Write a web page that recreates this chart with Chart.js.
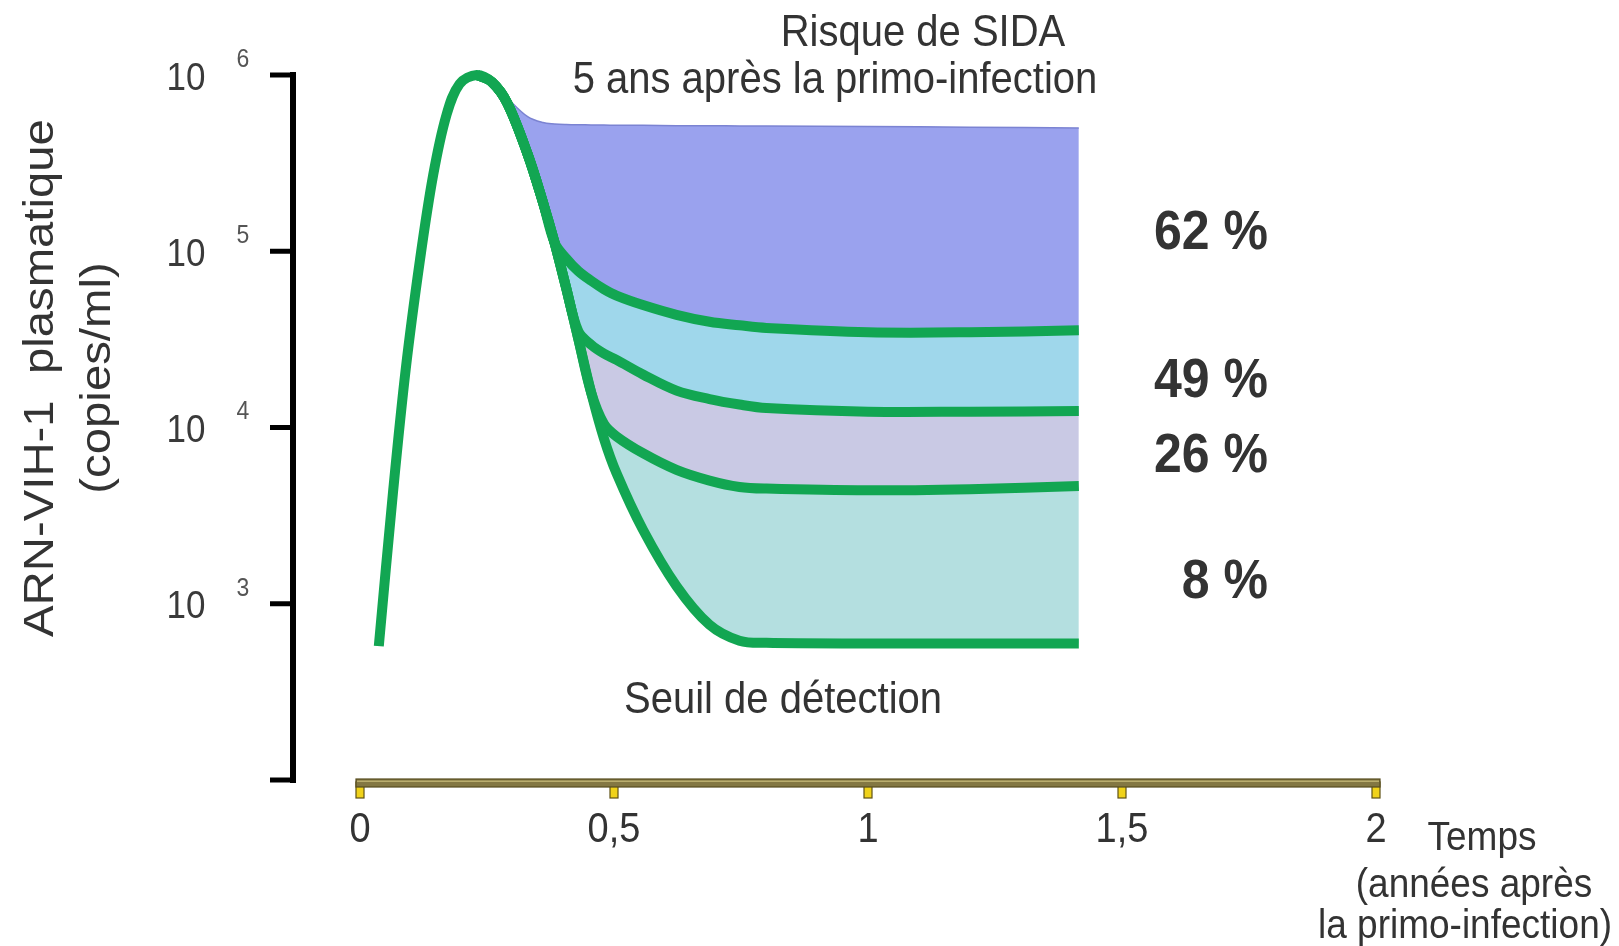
<!DOCTYPE html>
<html>
<head>
<meta charset="utf-8">
<title>ARN-VIH-1 plasmatique après la primo-infection</title>
<script src="https://cdn.jsdelivr.net/npm/chart.js@4.4.1/dist/chart.umd.min.js"></script>
<style>
  html, body { margin: 0; padding: 0; background: #fff; }
  #wrap { position: relative; width: 1619px; height: 946px; }
</style>
</head>
<body>
<div id="wrap"><canvas id="vlChart"></canvas></div>
<script>
/* ---------------- Data ---------------- */
// years after primary infection
const times = [0.037, 0.065, 0.09, 0.118, 0.144, 0.17, 0.196, 0.23, 0.26, 0.29, 0.33, 0.36, 0.383,
               0.406, 0.43, 0.455, 0.48, 0.505, 0.557, 0.623, 0.688, 0.747, 0.8, 1.0, 1.2, 1.415];

// plasma HIV-1 RNA (copies/ml) - peak then decline down to the detection threshold
const mainLoad = [575, 4300, 21400, 89000, 270000, 590000, 890000, 1000000, 910000, 692000, 355000, 190000, 112000,
                  61700, 31600, 15800, 8700, 5500, 2630, 1260, 760, 617, 600, 595, 595, 595];

// upper edge of the 62 % band
const riskTop = [null, null, null, null, null, null, null, 1000000, 910000, 740000, 580000, 537000, 528000,
                 524000, 522000, 521000, 520000, 519000, 518000, 516000, 515000, 514000, 513000, 510000, 506000, 501000];

// set points separating the bands
const split62 = [null, null, null, null, null, null, null, 1000000, 910000, 692000, 355000, 190000, 112000,
                 91000, 77000, 68000, 61000, 56000, 49500, 43600, 39800, 38000, 36700, 34700, 34700, 35600];
const split49 = [null, null, null, null, null, null, null, 1000000, 910000, 692000, 355000, 190000, 112000,
                 61700, 35000, 29500, 26300, 24200, 20000, 16200, 14500, 13500, 12900, 12300, 12300, 12400];
const split26 = [null, null, null, null, null, null, null, 1000000, 910000, 692000, 355000, 190000, 112000,
                 61700, 31600, 15800, 10500, 8900, 7150, 5750, 5000, 4600, 4500, 4400, 4470, 4650];

const riskLabels = ['62 %', '49 %', '26 %', '8 %'];
const xTicks = [0, 0.5, 1, 1.5, 2];
const xTickLabels = ['0', '0,5', '1', '1,5', '2'];
const yTicks = [1000000, 100000, 10000, 1000];
const yTickExp = ['6', '5', '4', '3'];

/* ---------------- Styles ---------------- */
const GREEN = '#12a652';
const FONT = '"Liberation Sans", Arial, sans-serif';
const STRETCH = 1.1;   // text in the original is slightly tall

function drawText(ctx, text, x, y, font, color, align, rotate) {
  ctx.save();
  ctx.translate(x, y);
  ctx.scale(1, STRETCH);
  if (rotate) ctx.rotate(-Math.PI / 2);
  ctx.font = font;
  ctx.fillStyle = color;
  ctx.textAlign = align || 'center';
  ctx.textBaseline = 'middle';
  ctx.fillText(text, 0, 0);
  ctx.restore();
}

const toPoints = vals => times.map((t, i) => ({ x: t, y: vals[i] }));

/* ---------------- Axes + labels plugin ---------------- */
const axesAndLabels = {
  id: 'axesAndLabels',
  afterDraw(chart) {
    const ctx = chart.ctx;
    const xs = chart.scales.x, ys = chart.scales.y;

    // y axis (black, with ticks on the left)
    const axX = 293;
    ctx.save();
    ctx.strokeStyle = '#000';
    ctx.lineWidth = 6;
    ctx.beginPath();
    ctx.moveTo(axX, ys.getPixelForValue(1000000) - 3);
    ctx.lineTo(axX, ys.getPixelForValue(100) + 3);
    ctx.stroke();
    ctx.lineWidth = 5;
    [...yTicks, 100].forEach(v => {
      const py = ys.getPixelForValue(v);
      ctx.beginPath();
      ctx.moveTo(270, py);
      ctx.lineTo(axX, py);
      ctx.stroke();
    });
    ctx.restore();

    yTicks.forEach((v, i) => {
      const py = ys.getPixelForValue(v);
      drawText(ctx, '10', 186, py + 4, '35px ' + FONT, '#3a3a3a');
      drawText(ctx, yTickExp[i], 243, py - 15, '23px ' + FONT, '#555');
    });

    drawText(ctx, 'ARN-VIH-1  plasmatique', 41, 378, '43px ' + FONT, '#333', 'center', true);
    drawText(ctx, '(copies/ml)', 98, 378, '43px ' + FONT, '#333', 'center', true);

    // x axis: olive bar with small yellow ticks
    const x0 = xs.getPixelForValue(xTicks[0]);
    const x1 = xs.getPixelForValue(xTicks[xTicks.length - 1]);
    const barY = chart.chartArea.bottom - 1;
    ctx.save();
    ctx.lineWidth = 1.2;
    xTicks.forEach(v => {
      const px = xs.getPixelForValue(v);
      ctx.fillStyle = '#f0d21a';
      ctx.strokeStyle = '#5f5215';
      ctx.fillRect(px - 4, barY + 3, 8, 16);
      ctx.strokeRect(px - 4, barY + 3, 8, 16);
    });
    ctx.fillStyle = '#837743';
    ctx.fillRect(x0 - 4, barY, x1 - x0 + 8, 8);
    ctx.strokeStyle = '#564c1f';
    ctx.strokeRect(x0 - 4, barY, x1 - x0 + 8, 8);
    ctx.fillStyle = '#b9ad6e';
    ctx.fillRect(x0 - 3, barY + 1.5, x1 - x0 + 6, 1.5);
    ctx.restore();

    xTicks.forEach((v, i) => {
      drawText(ctx, xTickLabels[i], xs.getPixelForValue(v), 830, '38px ' + FONT, '#333');
    });
    drawText(ctx, 'Temps', 1482, 839, '37px ' + FONT, '#333');
    drawText(ctx, '(années après', 1474, 886, '37px ' + FONT, '#333');
    drawText(ctx, 'la primo-infection)', 1465, 927, '37px ' + FONT, '#333');

    // titles and band labels
    drawText(ctx, 'Risque de SIDA', 923, 34, '40px ' + FONT, '#333');
    drawText(ctx, '5 ans après la primo-infection', 835, 81, '40px ' + FONT, '#333');
    drawText(ctx, 'Seuil de détection', 783, 701, '40px ' + FONT, '#333');

    const labelY = [234, 382, 457, 583];
    riskLabels.forEach((t, i) => {
      drawText(ctx, t, 1268, labelY[i], 'bold 50px ' + FONT, '#333', 'right');
    });
  }
};

/* ---------------- Chart ---------------- */
const ctx = document.getElementById('vlChart').getContext('2d');
const vlChart = new Chart(ctx, {
  type: 'line',
  data: {
    datasets: [
      { label: 'Risque 62 %', data: toPoints(riskTop), borderColor: '#7b83d2', borderWidth: 1.5,
        backgroundColor: '#9aa2ee', fill: '+1', order: 9, clip: false },
      { label: '62 / 49 %', data: toPoints(split62), borderColor: GREEN, borderWidth: 10,
        backgroundColor: '#9fd7eb', fill: '+1', order: 1, clip: false },
      { label: '49 / 26 %', data: toPoints(split49), borderColor: GREEN, borderWidth: 10,
        backgroundColor: '#c9c9e4', fill: '+1', order: 1, clip: false },
      { label: '26 / 8 %', data: toPoints(split26), borderColor: GREEN, borderWidth: 10,
        backgroundColor: '#b4dfe0', fill: '+1', order: 1, clip: false },
      { label: 'Charge virale', data: toPoints(mainLoad), borderColor: GREEN, borderWidth: 10,
        fill: false, order: 0, clip: false }
    ]
  },
  options: {
    responsive: true,
    maintainAspectRatio: false,
    animation: false,
    layout: { padding: { left: 360, right: 243, top: 75, bottom: 166 } },
    scales: {
      x: { type: 'linear', min: 0, max: 2, display: false },
      y: { type: 'logarithmic', min: 100, max: 1000000, display: false }
    },
    elements: {
      point: { radius: 0 },
      line: { tension: 0.35, borderCapStyle: 'butt', borderJoinStyle: 'round' }
    },
    plugins: {
      legend: { display: false },
      tooltip: { enabled: false },
      filler: { drawTime: 'beforeDatasetsDraw' }
    }
  },
  plugins: [axesAndLabels]
});
</script>
</body>
</html>
